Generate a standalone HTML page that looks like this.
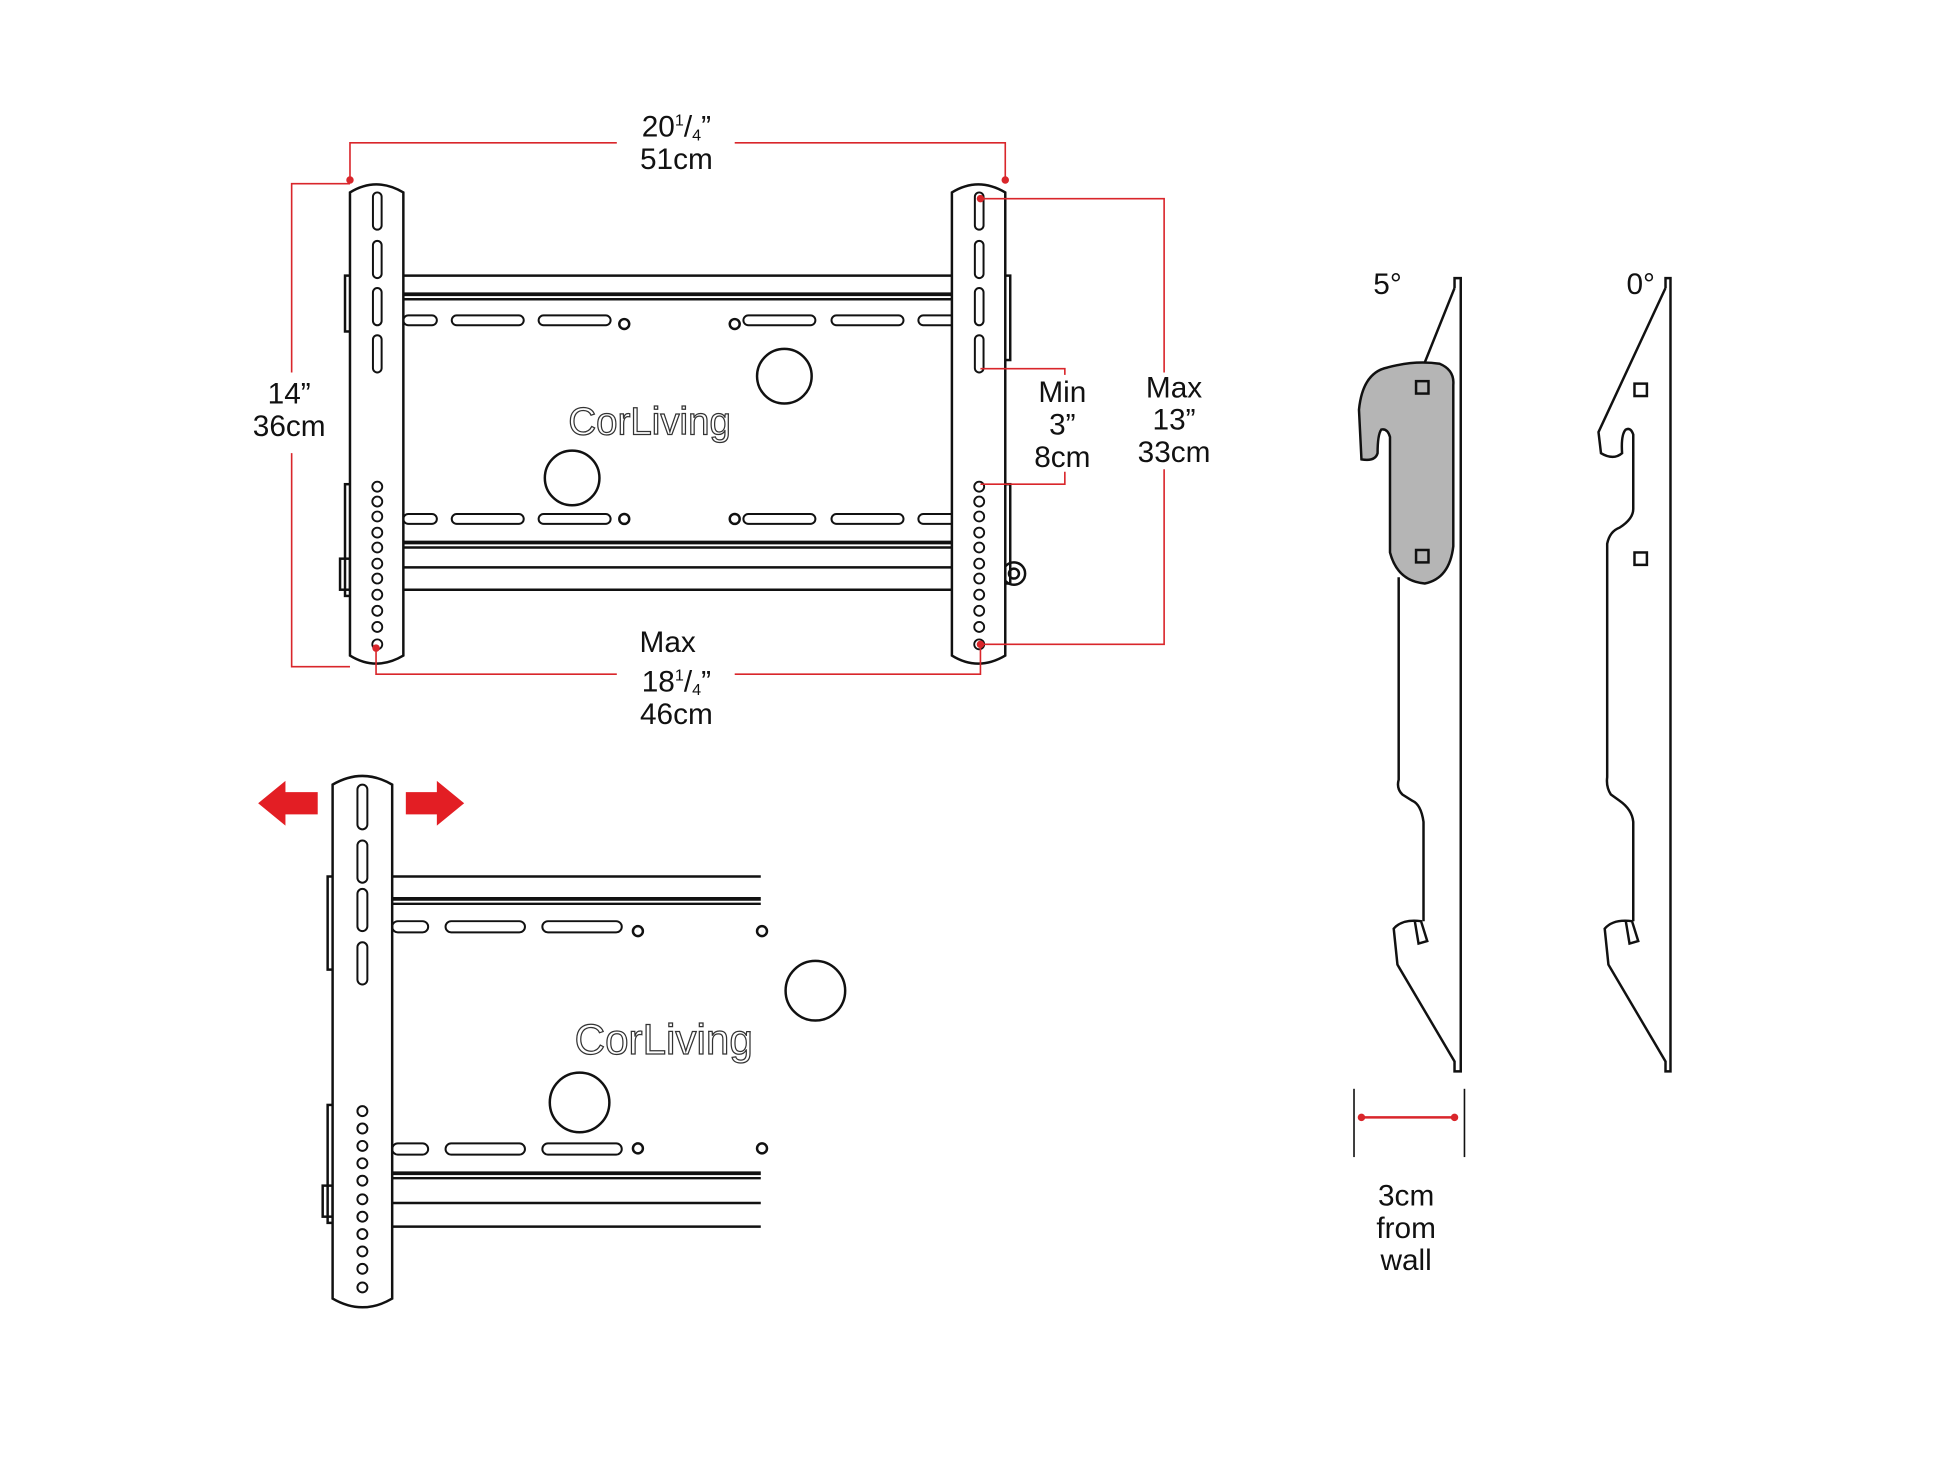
<!DOCTYPE html>
<html><head><meta charset="utf-8"><style>
html,body{margin:0;padding:0;background:#fff;width:1946px;height:1460px;overflow:hidden}
svg{display:block}
text{font-family:"Liberation Sans",sans-serif;fill:#111}
</style></head><body>
<svg width="1946" height="1460" viewBox="0 0 1568 1176" preserveAspectRatio="none" xmlns="http://www.w3.org/2000/svg">
<defs>
<g id="slot"><rect x="-3.5" y="0" width="7" height="30" rx="3.5" fill="#fff" stroke="#111" stroke-width="1.6"/></g>
<g id="hs"><rect x="0" y="-4" width="58" height="8" rx="4" fill="#fff" stroke="#111" stroke-width="1.6"/></g>
</defs>
<g fill="none" stroke="#111" stroke-width="2">
<line x1="325" y1="222" x2="767" y2="222"/>
<line x1="325" y1="237" x2="767" y2="237" stroke-width="3"/>
<line x1="325" y1="241" x2="767" y2="241"/>
<line x1="325" y1="437" x2="767" y2="437" stroke-width="3"/>
<line x1="325" y1="441" x2="767" y2="441"/>
<line x1="325" y1="457" x2="767" y2="457"/>
<line x1="325" y1="475" x2="767" y2="475"/>
<rect x="278" y="222" width="5" height="45"/><rect x="810" y="222" width="4" height="68"/>
<rect x="278" y="390" width="5" height="90"/><rect x="274" y="450" width="8" height="25"/>
<rect x="810" y="390" width="4" height="80"/>
<circle cx="817" cy="462" r="9"/><circle cx="817" cy="462" r="4"/>
<circle cx="632" cy="303" r="22"/><circle cx="461" cy="385" r="22"/>
<circle cx="503" cy="261" r="4"/><circle cx="592" cy="261" r="4"/>
<circle cx="503" cy="418" r="4"/><circle cx="592" cy="418" r="4"/>
</g>
<rect x="325" y="254" width="27" height="8" rx="4" fill="#fff" stroke="#111" stroke-width="1.6"/>
<use href="#hs" x="364" y="258"/><use href="#hs" x="434" y="258"/>
<use href="#hs" x="599" y="258"/><use href="#hs" x="670" y="258"/>
<rect x="740" y="254" width="30" height="8" rx="4" fill="#fff" stroke="#111" stroke-width="1.6"/>
<rect x="325" y="414" width="27" height="8" rx="4" fill="#fff" stroke="#111" stroke-width="1.6"/>
<use href="#hs" x="364" y="418"/><use href="#hs" x="434" y="418"/>
<use href="#hs" x="599" y="418"/><use href="#hs" x="670" y="418"/>
<rect x="740" y="414" width="30" height="8" rx="4" fill="#fff" stroke="#111" stroke-width="1.6"/>
<text x="458" y="350" font-size="31" style="fill:#fff;stroke:#333;stroke-width:1">CorLiving</text>
<g fill="#fff" stroke="#111" stroke-width="2">
<path d="M282,155 Q303,142 325,155 L325,528 Q303,541 282,528 Z"/>
<path d="M767,155 Q788,142 810,155 L810,528 Q788,541 767,528 Z"/>
</g>
<use href="#slot" x="304" y="155"/><use href="#slot" x="304" y="194"/><use href="#slot" x="304" y="232"/><use href="#slot" x="304" y="270"/>
<use href="#slot" x="789" y="155"/><use href="#slot" x="789" y="194"/><use href="#slot" x="789" y="232"/><use href="#slot" x="789" y="270"/>
<g fill="#fff" stroke="#111" stroke-width="1.5">
<circle cx="304" cy="392" r="4"/><circle cx="304" cy="404" r="4"/><circle cx="304" cy="416" r="4"/><circle cx="304" cy="429" r="4"/><circle cx="304" cy="441" r="4"/><circle cx="304" cy="454" r="4"/><circle cx="304" cy="466" r="4"/><circle cx="304" cy="479" r="4"/><circle cx="304" cy="492" r="4"/><circle cx="304" cy="505" r="4"/><circle cx="304" cy="519" r="4"/>
<circle cx="789" cy="392" r="4"/><circle cx="789" cy="404" r="4"/><circle cx="789" cy="416" r="4"/><circle cx="789" cy="429" r="4"/><circle cx="789" cy="441" r="4"/><circle cx="789" cy="454" r="4"/><circle cx="789" cy="466" r="4"/><circle cx="789" cy="479" r="4"/><circle cx="789" cy="492" r="4"/><circle cx="789" cy="505" r="4"/><circle cx="789" cy="519" r="4"/>
</g>
<g fill="none" stroke="#d9262b" stroke-width="1.3">
<polyline points="282,145 282,115 497,115"/><polyline points="592,115 810,115 810,145"/>
<polyline points="282,148 235,148 235,300"/><polyline points="235,365 235,537 282,537"/>
<polyline points="790,160 938,160 938,300"/><polyline points="938,378 938,519 790,519"/>
<polyline points="790,297 858,297 858,302"/><polyline points="858,380 858,390 790,390"/>
<polyline points="303,522 303,543 497,543"/><polyline points="592,543 790,543 790,522"/>
<line x1="1097" y1="900" x2="1172" y2="900" stroke-width="2"/>
</g>
<g fill="#d9262b"><circle cx="282" cy="145" r="3"/><circle cx="810" cy="145" r="3"/><circle cx="790" cy="160" r="3"/><circle cx="790" cy="519" r="3"/><circle cx="303" cy="522" r="3"/><circle cx="1097" cy="900" r="3"/><circle cx="1172" cy="900" r="3"/></g>
<g font-size="24" text-anchor="middle">
<text x="545" y="110">20<tspan font-size="13" dy="-9">1</tspan><tspan dy="9">/</tspan><tspan font-size="13" dy="3">4</tspan><tspan dy="-3">”</tspan></text>
<text x="545" y="136">51cm</text>
<text x="233" y="325">14”</text><text x="233" y="351">36cm</text>
<text x="856" y="324">Min</text><text x="856" y="350">3”</text><text x="856" y="376">8cm</text>
<text x="946" y="320">Max</text><text x="946" y="346">13”</text><text x="946" y="372">33cm</text>
<text x="538" y="525">Max</text>
<text x="545" y="557">18<tspan font-size="13" dy="-9">1</tspan><tspan dy="9">/</tspan><tspan font-size="13" dy="3">4</tspan><tspan dy="-3">”</tspan></text>
<text x="545" y="583">46cm</text>
<text x="1118" y="237">5°</text><text x="1322" y="237">0°</text>
<text x="1133" y="971">3cm</text><text x="1133" y="997">from</text><text x="1133" y="1023">wall</text>
</g>
<g fill="none" stroke="#111" stroke-width="2">
<line x1="316" y1="706" x2="613" y2="706"/>
<line x1="316" y1="724" x2="613" y2="724" stroke-width="3"/>
<line x1="316" y1="728" x2="613" y2="728"/>
<line x1="316" y1="945" x2="613" y2="945" stroke-width="3"/>
<line x1="316" y1="949" x2="613" y2="949"/>
<line x1="316" y1="969" x2="613" y2="969"/>
<line x1="316" y1="988" x2="613" y2="988"/>
<rect x="264" y="706" width="5" height="75"/><rect x="264" y="890" width="5" height="95"/><rect x="260" y="955" width="8" height="25"/>
<circle cx="657" cy="798" r="24"/><circle cx="467" cy="888" r="24"/>
<circle cx="514" cy="750" r="4"/><circle cx="614" cy="750" r="4"/>
<circle cx="514" cy="925" r="4"/><circle cx="614" cy="925" r="4"/>
</g>
<rect x="316" y="742" width="29" height="9" rx="4.5" fill="#fff" stroke="#111" stroke-width="1.6"/>
<rect x="359" y="742" width="64" height="9" rx="4.5" fill="#fff" stroke="#111" stroke-width="1.6"/>
<rect x="437" y="742" width="64" height="9" rx="4.5" fill="#fff" stroke="#111" stroke-width="1.6"/>
<rect x="316" y="921" width="29" height="9" rx="4.5" fill="#fff" stroke="#111" stroke-width="1.6"/>
<rect x="359" y="921" width="64" height="9" rx="4.5" fill="#fff" stroke="#111" stroke-width="1.6"/>
<rect x="437" y="921" width="64" height="9" rx="4.5" fill="#fff" stroke="#111" stroke-width="1.6"/>
<text x="463" y="849" font-size="34" style="fill:#fff;stroke:#333;stroke-width:1">CorLiving</text>
<path d="M268,632 Q292,618 316,632 L316,1046 Q292,1060 268,1046 Z" fill="#fff" stroke="#111" stroke-width="2"/>
<g fill="#fff" stroke="#111" stroke-width="1.6">
<rect x="288" y="632" width="8" height="36" rx="4"/><rect x="288" y="677" width="8" height="34" rx="4"/><rect x="288" y="716" width="8" height="34" rx="4"/><rect x="288" y="759" width="8" height="34" rx="4"/>
<circle cx="292" cy="895" r="4"/><circle cx="292" cy="909" r="4"/><circle cx="292" cy="923" r="4"/><circle cx="292" cy="937" r="4"/><circle cx="292" cy="951" r="4"/><circle cx="292" cy="966" r="4"/><circle cx="292" cy="980" r="4"/><circle cx="292" cy="994" r="4"/><circle cx="292" cy="1008" r="4"/><circle cx="292" cy="1022" r="4"/><circle cx="292" cy="1037" r="4"/>
</g>
<g fill="#e31e24">
<polygon points="208,647 230,629 230,638 256,638 256,656 230,656 230,665"/>
<polygon points="374,647 352,629 352,638 327,638 327,656 352,656 352,665"/>
</g>
<g fill="none" stroke="#111" stroke-width="2">
<path d="M1172,232 L1172,224 L1177,224 L1177,863 L1172,863 L1172,855 L1126,777 L1123,748 Q1130,740 1145,742 L1150,758 L1143,760 L1140,742 M1147,742 L1147,662 Q1145,648 1138,645 L1130,640 Q1125,635 1127,628 L1127,465"/>
<line x1="1172" y1="232" x2="1148" y2="292"/>
<path d="M1118,296 Q1140,290 1160,293 Q1172,298 1171,310 L1171,440 Q1168,466 1148,470 Q1126,468 1120,445 L1120,352 Q1118,345 1113,346 Q1110,350 1110,365 Q1108,372 1097,370 L1095,330 Q1098,300 1118,296 Z" fill="#b5b5b5"/>
<rect x="1141" y="307" width="10" height="10"/>
<rect x="1141" y="443" width="10" height="10"/>
<line x1="1091" y1="877" x2="1091" y2="932" stroke-width="1.3"/>
<line x1="1180" y1="877" x2="1180" y2="932" stroke-width="1.3"/>
</g>
<g fill="none" stroke="#111" stroke-width="2">
<path d="M1342,232 L1342,224 L1346,224 L1346,863 L1342,863 L1342,855 L1296,777 L1293,748 Q1300,740 1315,742 L1320,758 L1313,760 L1310,742 M1316,742 L1316,662 Q1315,652 1305,645 L1298,640 Q1294,634 1295,626 L1295,438 Q1297,428 1305,425 Q1316,418 1316,410 L1316,350 Q1314,344 1310,346 Q1306,350 1307,365 Q1300,371 1290,365 L1288,348 L1342,232"/>
<rect x="1317" y="309" width="10" height="10"/>
<rect x="1317" y="445" width="10" height="10"/>
</g>
</svg>
</body></html>
